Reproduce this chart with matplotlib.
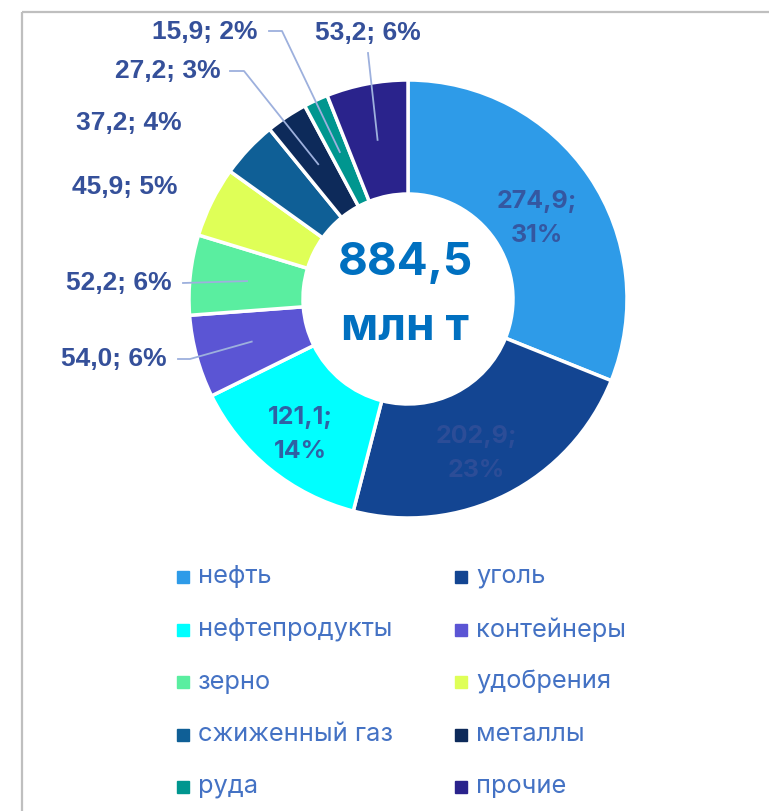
import matplotlib
matplotlib.use("Agg")
import matplotlib.pyplot as plt
import numpy as np

# данные
categories = ["нефть", "уголь", "нефтепродукты", "контейнеры", "зерно",
              "удобрения", "сжиженный газ", "металлы", "руда", "прочие"]
values = [274.9, 202.9, 121.1, 54.0, 52.2, 45.9, 37.2, 27.2, 15.9, 53.2]
colors = ["#2E9BE8", "#134592", "#00FFFF", "#5B55D4", "#5AEEA0",
          "#DFFF57", "#0F5F96", "#0D2A5A", "#00968F", "#2A238C"]
total_label = "884,5"
unit_label = "млн т"

W, H = 769, 811
cx, cy = 408, 299
r_out, ring = 219, 114
label_color = "#35509A"


def fy(y):
    return H - y


def fmt(v, total):
    return f"{v:.1f}".replace(".", ",") + f"; {round(100 * v / total)}%"


fig = plt.figure(figsize=(W / 100, H / 100), dpi=100)
ax = fig.add_axes([0, 0, 1, 1])

wedges, _ = ax.pie(values, colors=colors, startangle=90, counterclock=False,
                   center=(cx, fy(cy)), radius=r_out,
                   wedgeprops=dict(width=ring, edgecolor="white", linewidth=2.5))
ax.set_xlim(0, W)
ax.set_ylim(0, H)
ax.axis("off")

total = sum(values)
r_mid = r_out - ring / 2


def mid_point(w, r):
    a = np.deg2rad((w.theta1 + w.theta2) / 2)
    return w.center[0] + r * np.cos(a), w.center[1] + r * np.sin(a)


# подписи внутри кольца
for i in [0, 1, 2]:
    x, y = mid_point(wedges[i], r_mid)
    txt = fmt(values[i], total).replace("; ", ";\n")
    ax.text(x - 5, y - 10, txt, ha="center", va="center", fontsize=18,
            fontweight="bold", family="Inter", color=label_color,
            linespacing=1.6, alpha=0.9 if i != 1 else 0.75)

# внешние подписи: позиция текста и излом выноски (None - без выноски)
outer = {
    3: ((114, 359), [(178, 359), (190, 359)]),
    4: ((119, 283), [(183, 283)]),
    5: ((125, 187), None),
    6: ((129, 123), None),
    7: ((168, 71), [(230, 71), (244, 71)]),
    8: ((205, 32), [(269, 31), (282, 31)]),
    9: ((368, 33), [(368, 53)]),
}
for i, (pos, pts) in outer.items():
    ax.text(pos[0], fy(pos[1]), fmt(values[i], total), ha="center", va="center",
            fontsize=19, fontweight="bold", family="Liberation Sans",
            color=label_color)
    if pts:
        ex, ey = mid_point(wedges[i], r_mid)
        xs = [p[0] for p in pts] + [ex]
        ys = [fy(p[1]) for p in pts] + [ey]
        ax.plot(xs, ys, color="#9DB0DD", lw=1.3)

# центр
ax.text(cx - 3, fy(263), total_label, ha="center", va="center", fontsize=33,
        fontweight="bold", family="Inter", color="#0070C0")
ax.text(cx - 3, fy(328), unit_label, ha="center", va="center", fontsize=33,
        fontweight="bold", family="Inter", color="#0070C0")

# легенда
col_x = [183, 461]
row_y0, row_dy = 577, 52.5
for i, (name, c) in enumerate(zip(categories, colors)):
    x = col_x[i % 2]
    y = fy(row_y0 + row_dy * (i // 2))
    ax.plot([x], [y], marker="s", markersize=8, color=c, linestyle="none")
    ax.text(x + 15, y, name, ha="left", va="center", fontsize=18.3,
            family="Inter", color="#4472C4")

# рамка
ax.plot([22, 22], [0, fy(12)], color="#BFBFBF", lw=1.6, solid_capstyle="butt")
ax.plot([22, W], [fy(12), fy(12)], color="#BFBFBF", lw=1.6, solid_capstyle="butt")

fig.savefig("out.png", dpi=100)
